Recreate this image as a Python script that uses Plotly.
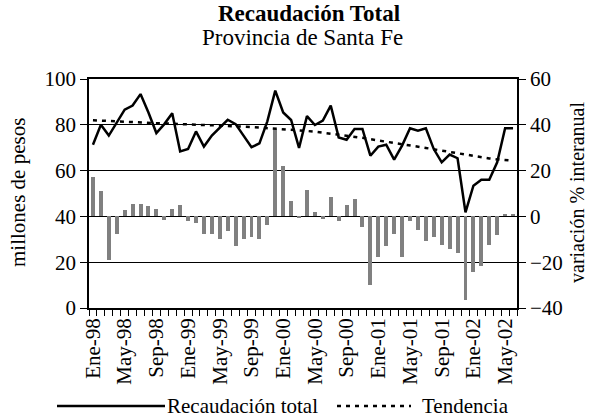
import plotly.graph_objects as go

months = ["Ene-98","Feb-98","Mar-98","Abr-98","May-98","Jun-98","Jul-98","Ago-98","Sep-98","Oct-98","Nov-98","Dic-98",
          "Ene-99","Feb-99","Mar-99","Abr-99","May-99","Jun-99","Jul-99","Ago-99","Sep-99","Oct-99","Nov-99","Dic-99",
          "Ene-00","Feb-00","Mar-00","Abr-00","May-00","Jun-00","Jul-00","Ago-00","Sep-00","Oct-00","Nov-00","Dic-00",
          "Ene-01","Feb-01","Mar-01","Abr-01","May-01","Jun-01","Jul-01","Ago-01","Sep-01","Oct-01","Nov-01","Dic-01",
          "Ene-02","Feb-02","Mar-02","Abr-02","May-02","Jun-02"]

recaudacion = [71.3, 80.0, 75.3, 81.0, 86.6, 88.4, 93.4, 85.4, 76.4, 80.3, 85.0, 68.4,
               69.4, 77.1, 70.5, 75.3, 78.9, 82.2, 80.3, 75.5, 70.2, 71.9, 81.5, 94.9,
               85.4, 82.1, 69.9, 83.8, 79.9, 81.8, 88.4, 74.5, 73.5, 78.2, 78.2, 66.5,
               70.5, 71.3, 64.8, 70.9, 78.5, 77.4, 78.5, 69.4, 63.6, 67.0, 65.4, 41.8,
               53.4, 56.0, 56.0, 63.6, 78.5, 78.5]

tendencia = [82.0, 81.8, 81.6, 81.4, 81.2, 81.0, 80.9, 80.8, 80.7, 80.6, 80.4, 80.3,
             80.2, 80.1, 79.9, 79.8, 79.7, 79.6, 79.4, 79.2, 79.0, 78.8, 78.6, 78.4,
             78.2, 77.9, 77.6, 77.3, 77.0, 76.6, 76.2, 75.8, 75.3, 74.8, 74.3, 73.7,
             73.2, 72.7, 72.2, 71.6, 71.0, 70.5, 69.9, 69.3, 68.7, 68.1, 67.5, 66.9,
             66.3, 65.8, 65.3, 64.9, 64.6, 64.3]

variacion = [17.1, 11.2, -19.0, -7.8, 2.9, 5.3, 5.3, 4.7, 3.1, -1.4, 3.1, 4.8,
             -2.2, -3.0, -7.8, -7.8, -10.0, -6.4, -13.1, -10.0, -9.1, -10.0, -3.9, 38.2,
             21.9, 6.9, -0.5, 11.7, 1.8, -1.3, 8.6, -2.2, 5.1, 7.7, -4.8, -30.0,
             -17.9, -13.1, -7.8, -17.9, -2.2, -5.9, -10.9, -9.1, -12.6, -14.4, -16.0, -36.5,
             -24.4, -21.8, -12.6, -8.1, 1.0, 1.0]

x = list(range(len(months)))
tick_idx = x[::4]
tick_text = [months[i] for i in tick_idx]

FONT = "Liberation Serif"

def f(size):
    return dict(family=FONT, size=size, color="black")

fig = go.Figure()
fig.add_trace(go.Bar(x=x, y=variacion, yaxis="y", marker=dict(color="#808080", line=dict(width=0)),
                     width=0.5, showlegend=False))
fig.add_trace(go.Scatter(x=x, y=tendencia, yaxis="y2", mode="lines",
                         line=dict(color="black", width=2.5, dash="4px,5px"), showlegend=False))
fig.add_trace(go.Scatter(x=x, y=recaudacion, yaxis="y2", mode="lines",
                         line=dict(color="black", width=2.5), showlegend=False))

fig.update_layout(
    width=589, height=419,
    margin=dict(l=89, r=72, t=79, b=111, autoexpand=False),
    paper_bgcolor="white", plot_bgcolor="white",
    font=f(21),
    bargap=0,
    xaxis=dict(range=[-0.5, len(months) - 0.5], tickvals=tick_idx, ticktext=tick_text,
               tickangle=-90, ticks="", showgrid=False, zeroline=False, automargin=False,
               showline=True, linecolor="black", linewidth=1.5, mirror=True,
               tickfont=f(21),
               minor=dict(tick0=-0.5, dtick=1, ticks="outside", ticklen=6, tickcolor="black", showgrid=False)),
    yaxis=dict(side="right", range=[-40, 60], dtick=20, ticks="outside", ticklen=7, tickcolor="black",
               showline=True, linecolor="black", linewidth=1.5, showgrid=True, gridcolor="black",
               gridwidth=1, zeroline=False, tickfont=f(21), automargin=False),
    yaxis2=dict(side="left", overlaying="y", range=[0, 100], dtick=20, ticks="outside", ticklen=7,
                tickcolor="black", showline=True, linecolor="black", linewidth=1.5, showgrid=False,
                zeroline=False, tickfont=f(21), automargin=False),
    showlegend=False,
)

def px_to_paper_x(px):
    return (px - 89) / 428.0

def px_to_paper_y(py):
    return (308 - py) / 229.0

annotations = [
    dict(text="<b>Recaudación Total</b>", x=px_to_paper_x(309), y=px_to_paper_y(13), font=f(23)),
    dict(text="Provincia de Santa Fe", x=px_to_paper_x(302), y=px_to_paper_y(37), font=f(23)),
    dict(text="millones de pesos", x=px_to_paper_x(18), y=px_to_paper_y(193), textangle=-90, font=f(21)),
    dict(text="variación % interanual", x=px_to_paper_x(577), y=px_to_paper_y(193), textangle=-90, font=f(20)),
]
for a in annotations:
    a.update(xref="paper", yref="paper", xanchor="center", yanchor="middle", showarrow=False, borderpad=0)

legend_y = px_to_paper_y(406)
annotations.append(dict(text="Recaudación total", x=px_to_paper_x(166), y=legend_y, xref="paper", yref="paper",
                        xanchor="left", yanchor="middle", showarrow=False, font=f(21), borderpad=0))
annotations.append(dict(text="Tendencia", x=px_to_paper_x(421), y=legend_y, xref="paper", yref="paper",
                        xanchor="left", yanchor="middle", showarrow=False, font=f(21), borderpad=0))
fig.update_layout(annotations=annotations)

fig.update_layout(shapes=[
    dict(type="line", xref="paper", yref="paper", x0=px_to_paper_x(57), x1=px_to_paper_x(165),
         y0=legend_y, y1=legend_y, line=dict(color="black", width=2.5)),
    dict(type="line", xref="paper", yref="paper", x0=px_to_paper_x(337), x1=px_to_paper_x(411),
         y0=legend_y, y1=legend_y, line=dict(color="black", width=2.5, dash="4px,5px")),
])

fig.write_html("out.html", config={"displayModeBar": False},
               post_script="document.body.style.margin='0';document.body.style.padding='0';")
